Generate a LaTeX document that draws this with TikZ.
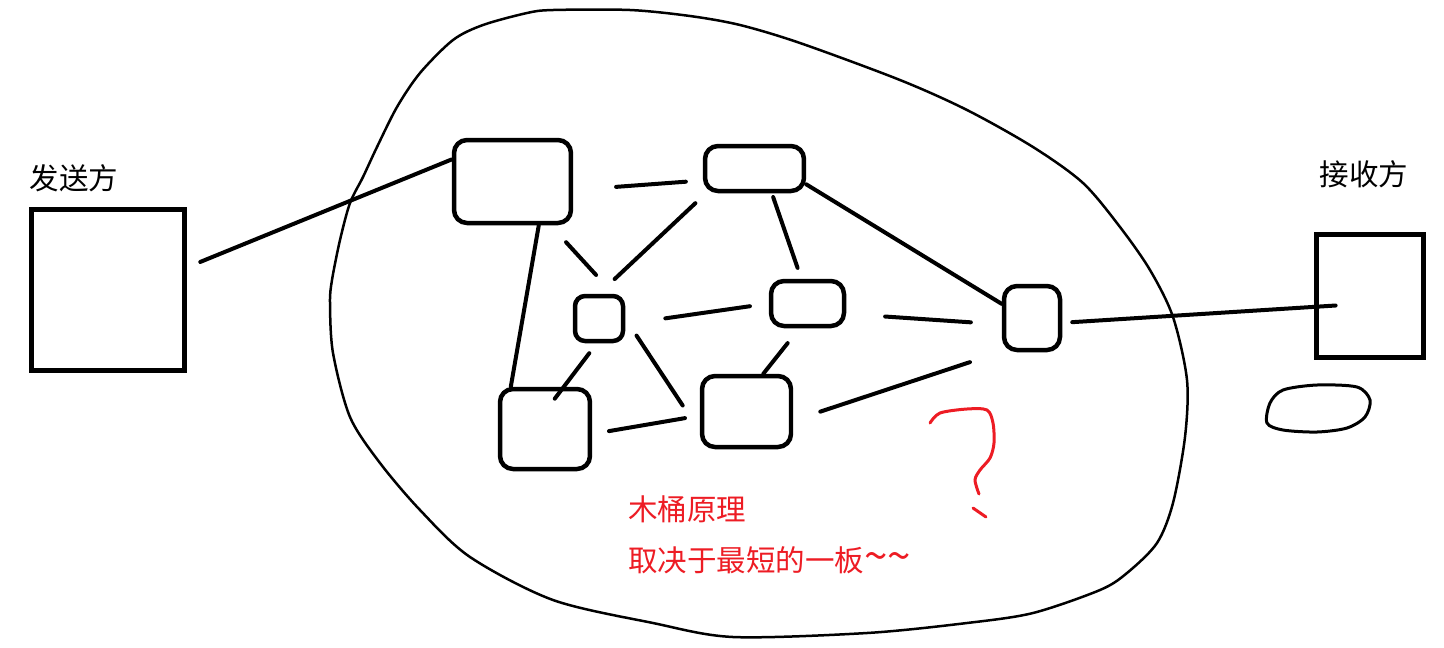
\documentclass[tikz,border=0pt]{standalone}
\usepackage{fontspec}
\setmainfont{Noto Sans CJK SC}
\definecolor{paintred}{RGB}{237,28,36}
\begin{document}
\begin{tikzpicture}[x=0.02cm,y=-0.02cm,
  box/.style={draw,line width=0.09cm,rounded corners=0.26cm,inner sep=0pt},
  host/.style={draw,line width=0.095cm,inner sep=0pt},
  link/.style={line width=0.08cm,line cap=round},
  headtext/.style={font=\fontsize{16.8}{20}\selectfont,inner sep=0pt},
  redtext/.style={headtext,text=paintred,anchor=west}]
\useasboundingbox (0,0) rectangle (1444,647);
\draw[line width=0.05cm] plot[smooth cycle] coordinates {(332,280) (340,240) (350,203) (363,177) (377,147) (397,107) (420,73) (453,40) (483,25) (527,13) (553,10) (630,10) (690,16) (740,25) (800,43) (900,80) (967,110) (1033,147) (1083,183) (1120,227) (1150,270) (1173,317) (1187,380) (1185,437) (1173,503) (1157,543) (1127,573) (1100,590) (1033,613) (967,623) (867,633) (733,637) (653,623) (553,600) (470,557) (420,510) (380,463) (350,417) (333,353) (330,303)};
\node[host,minimum width=3.06cm,minimum height=3.22cm] (send) at (108,290) {};
\node[host,minimum width=2.14cm,minimum height=2.46cm] (recv) at (1370,296) {};
\node[headtext] (sendname) at (74,178) {发送方};
\node[headtext] (recvname) at (1364,174) {接收方};
\node[box,minimum width=2.34cm,minimum height=1.66cm] (r1) at (512.5,181.5) {};
\node[box,minimum width=1.98cm,minimum height=0.90cm] (r2) at (754.5,168.5) {};
\node[box,minimum width=0.96cm,minimum height=0.90cm,rounded corners=0.2cm] (r3) at (599,318.5) {};
\node[box,minimum width=1.46cm,minimum height=0.90cm] (r4) at (807.5,303.5) {};
\node[box,minimum width=1.80cm,minimum height=1.60cm] (r5) at (545,429) {};
\node[box,minimum width=1.78cm,minimum height=1.42cm] (r6) at (746.5,411.5) {};
\node[box,minimum width=1.12cm,minimum height=1.28cm] (r7) at (1032,318) {};
\draw[link,shorten <=0.29cm] (send.16) -- (r1.160);
\draw[link,shorten <=0.86cm,shorten >=0.34cm] (r1.-8) -- (r2.193);
\draw[link] (r1.-59) -- (r5.129);
\draw[link,shorten <=0.46cm,shorten >=0.51cm] (r1.-49) -- (r3.60);
\draw[link,shorten <=0.29cm,shorten >=0.43cm] (r2.-153) -- (r3.north);
\draw[link,shorten <=0.08cm,shorten >=0.23cm] (r2.-55) -- (r4.104);
\draw[link] (r2.-17) -- (r7.155);
\draw[link,shorten <=0.81cm,shorten >=0.38cm] (r3.-12) -- (r4.west);
\draw[link,shorten <=0.25cm,shorten >=-0.3cm] (r3.265) -- (r5.66);
\draw[link,shorten <=0.41cm,shorten >=0.62cm] (r3.east) -- (r6.203);
\draw[link,shorten <=0.34cm,shorten >=0.3cm] (r5.-6) -- (r6.185);
\draw[link,shorten <=0.38cm] (r4.252) -- (r6.66);
\draw[link,shorten <=0.78cm,shorten >=0.62cm] (r4.-15) -- (r7.192);
\draw[link,shorten <=0.57cm,shorten >=0.67cm] (r6.-11) -- (r7.228);
\draw[link,shorten <=0.2cm,shorten >=-0.43cm] (r7.-9) -- (recv.191);
\draw[line width=0.06cm] plot[smooth cycle] coordinates {(1267,423) (1270,403) (1283,390) (1317,385) (1357,387) (1370,400) (1365,417) (1347,428) (1317,432) (1283,430)};
\draw[paintred,line width=0.06cm,line cap=round] plot[smooth] coordinates {(930,423) (940,413) (967,409) (987,410) (993,423) (994,443) (990,458) (980,470) (975,480) (979,494)};
\draw[paintred,line width=0.06cm,line cap=round] (973,508) -- (986,517);
\node[redtext] (rule) at (628,509) {木桶原理};
\node[redtext] (ruletext) at (628,560) {取决于最短的一板{\fontsize{24}{20}\selectfont\textasciitilde\textasciitilde}};
\end{tikzpicture}
\end{document}
